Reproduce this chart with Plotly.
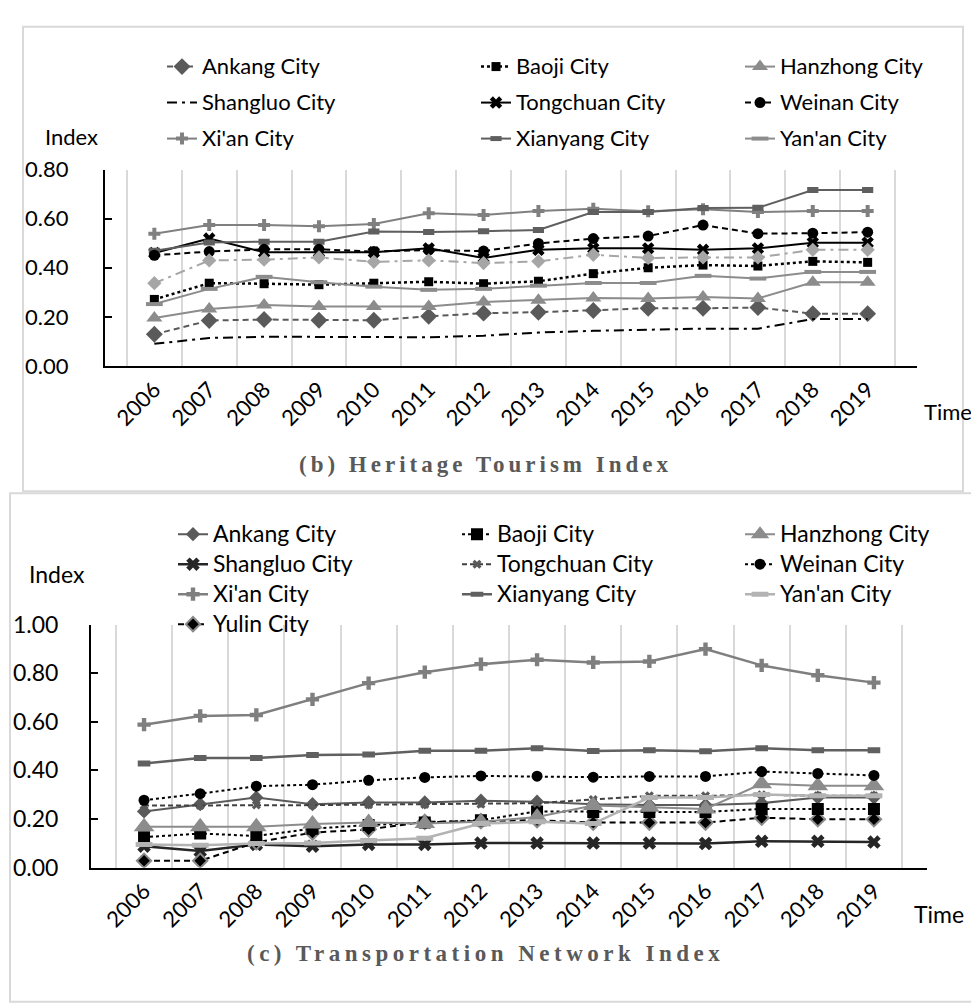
import plotly.graph_objects as go

W, H = 971, 1005
years = [str(y) for y in range(2006, 2020)]

# (b) Heritage Tourism Index
ht_ankang    = [0.129, 0.185, 0.189, 0.186, 0.186, 0.202, 0.215, 0.219, 0.226, 0.235, 0.235, 0.238, 0.213, 0.213]
ht_baoji     = [0.271, 0.337, 0.335, 0.331, 0.337, 0.343, 0.335, 0.345, 0.376, 0.400, 0.411, 0.407, 0.426, 0.422]
ht_hanzhong  = [0.195, 0.232, 0.248, 0.242, 0.242, 0.242, 0.261, 0.268, 0.277, 0.275, 0.281, 0.275, 0.341, 0.341]
ht_shangluo  = [0.090, 0.114, 0.119, 0.118, 0.117, 0.117, 0.123, 0.136, 0.143, 0.149, 0.152, 0.152, 0.191, 0.191]
ht_tongchuan = [0.460, 0.519, 0.463, 0.463, 0.463, 0.479, 0.440, 0.473, 0.479, 0.479, 0.473, 0.479, 0.502, 0.502]
ht_weinan    = [0.451, 0.466, 0.475, 0.475, 0.466, 0.472, 0.468, 0.499, 0.519, 0.529, 0.574, 0.539, 0.541, 0.545]
ht_xian      = [0.539, 0.574, 0.574, 0.569, 0.578, 0.622, 0.615, 0.631, 0.640, 0.630, 0.638, 0.627, 0.631, 0.631]
ht_xianyang  = [0.469, 0.503, 0.506, 0.506, 0.548, 0.546, 0.549, 0.554, 0.627, 0.627, 0.643, 0.644, 0.717, 0.717]
ht_yanan     = [0.252, 0.314, 0.363, 0.341, 0.323, 0.310, 0.314, 0.327, 0.338, 0.338, 0.367, 0.356, 0.383, 0.383]
ht_yulin     = [0.337, 0.430, 0.433, 0.442, 0.424, 0.430, 0.419, 0.426, 0.453, 0.440, 0.442, 0.442, 0.473, 0.473]

# (c) Transportation Network Index
tn_ankang    = [0.231, 0.261, 0.288, 0.261, 0.268, 0.268, 0.275, 0.271, 0.261, 0.257, 0.257, 0.265, 0.288, 0.288]
tn_baoji     = [0.125, 0.140, 0.130, 0.160, 0.175, 0.185, 0.195, 0.231, 0.229, 0.229, 0.229, 0.241, 0.241, 0.241]
tn_hanzhong  = [0.168, 0.168, 0.168, 0.179, 0.185, 0.181, 0.188, 0.208, 0.255, 0.248, 0.241, 0.345, 0.337, 0.337]
tn_shangluo  = [0.088, 0.068, 0.095, 0.088, 0.095, 0.095, 0.101, 0.101, 0.101, 0.101, 0.099, 0.108, 0.108, 0.105]
tn_tongchuan = [0.255, 0.255, 0.257, 0.257, 0.259, 0.260, 0.261, 0.265, 0.280, 0.295, 0.295, 0.300, 0.295, 0.295]
tn_weinan    = [0.277, 0.304, 0.335, 0.341, 0.359, 0.371, 0.377, 0.376, 0.372, 0.375, 0.375, 0.395, 0.387, 0.379]
tn_xian      = [0.588, 0.624, 0.628, 0.692, 0.759, 0.804, 0.837, 0.855, 0.844, 0.848, 0.899, 0.832, 0.791, 0.761]
tn_xianyang  = [0.428, 0.451, 0.451, 0.463, 0.465, 0.481, 0.481, 0.491, 0.480, 0.483, 0.479, 0.491, 0.483, 0.483]
tn_yanan     = [0.095, 0.092, 0.099, 0.101, 0.111, 0.121, 0.181, 0.188, 0.181, 0.288, 0.288, 0.301, 0.295, 0.295]
tn_yulin     = [0.028, 0.028, 0.104, 0.144, 0.157, 0.188, 0.191, 0.195, 0.185, 0.185, 0.185, 0.205, 0.199, 0.199]

FONT = "Lato"

def px(x):
    return x / W

def py(y):
    return 1 - y / H

fig = go.Figure()

def add(name, ys, xaxis, yaxis, legend, color, dash, width, symbol, msize,
        mcolor=None, mline=None, mlw=0, show=True, tsize=22):
    marker = dict(symbol=symbol, size=msize, color=mcolor or color)
    if symbol in ("line-ew",):
        marker = dict(symbol=symbol, size=msize, line=dict(color=mcolor or color, width=mlw))
    elif mline:
        marker["line"] = dict(color=mline, width=mlw)
    fig.add_trace(go.Scatter(
        x=years, y=ys, name=f"<span style='font-size:{tsize}px'>{name}</span>",
        mode="lines+markers" if symbol else "lines",
        line=dict(color=color, dash=dash, width=width),
        marker=marker, xaxis=xaxis, yaxis=yaxis, legend=legend,
        legendgroup=name + legend, showlegend=show, hoverinfo="skip"))

# top chart traces
T = ("x", "y")
add("Ankang City", ht_ankang, *T, "legend", "#5a5a5a", "6px,4px", 2, "diamond", 13)
add("Shangluo City", ht_shangluo, *T, "legend", "#000000", "10px,5px,3px,5px", 2, None, 0)
add("Xi'an City", ht_xian, *T, "legend", "#808080", "solid", 2, "cross", 10)
add("Baoji City", ht_baoji, *T, "legend2", "#000000", "dot", 2.5, "square", 9)
add("Tongchuan City", ht_tongchuan, *T, "legend2", "#000000", "solid", 2, "x", 11)
add("Xianyang City", ht_xianyang, *T, "legend2", "#5f5f5f", "solid", 2, "line-ew", 8, mlw=6)
add("Hanzhong City", ht_hanzhong, *T, "legend3", "#8c8c8c", "solid", 2, "triangle-up", 14)
add("Weinan City", ht_weinan, *T, "legend3", "#000000", "6px,4px", 2, "circle", 11)
add("Yan'an City", ht_yanan, *T, "legend3", "#8c8c8c", "solid", 2, "line-ew", 12, mlw=4)
add("Yulin City", ht_yulin, *T, "legend3", "#a6a6a6", "10px,5px,3px,5px", 2, "diamond", 11, show=False)

# bottom chart traces
B = ("x2", "y2")
add("Ankang City", tn_ankang, *B, "legend4", "#5a5a5a", "solid", 2, "diamond", 11, tsize=23)
add("Shangluo City", tn_shangluo, *B, "legend4", "#262626", "solid", 2.5, "x", 12, tsize=23)
add("Xi'an City", tn_xian, *B, "legend4", "#7f7f7f", "solid", 2.5, "cross", 11, tsize=23)
add("Yulin City", tn_yulin, *B, "legend4", "#000000", "6px,4px", 2, "diamond", 11, mcolor="#000000", mline="#8a8a8a", mlw=2, tsize=23)
add("Baoji City", tn_baoji, *B, "legend5", "#000000", "dot", 2, "square", 12, tsize=23)
add("Tongchuan City", tn_tongchuan, *B, "legend5", "#404040", "5px,3px", 2, "x", 8, mcolor="#595959", tsize=23)
add("Xianyang City", tn_xianyang, *B, "legend5", "#606060", "solid", 2.5, "line-ew", 9, mlw=6, tsize=23)
add("Hanzhong City", tn_hanzhong, *B, "legend6", "#8c8c8c", "solid", 2, "triangle-up", 18, tsize=23)
add("Weinan City", tn_weinan, *B, "legend6", "#000000", "dot", 2, "circle", 11, tsize=23)
add("Yan'an City", tn_yanan, *B, "legend6", "#b3b3b3", "solid", 2.5, "line-ew", 12, mlw=5, tsize=23)

xcommon = dict(type="category", tickson="boundaries", showgrid=True, gridcolor="#d9d9d9",
               gridwidth=2, showline=True, linecolor="#000000", linewidth=2, ticks="",
               tickangle=-45, zeroline=False, fixedrange=True)
ycommon = dict(showgrid=False, showline=True, linecolor="#000000", linewidth=2,
               ticks="inside", ticklen=7, tickcolor="#000000", tickwidth=2,
               tickformat=".2f", zeroline=False, fixedrange=True)

def leg(x, y, gap):
    return dict(x=px(x), y=py(y), xanchor="left", yanchor="top", orientation="v",
                font=dict(family=FONT, size=20, color="#000000"), tracegroupgap=gap,
                bgcolor="rgba(0,0,0,0)", itemclick=False, itemdoubleclick=False)

def note(text, x, y, size, family=FONT, color="#000000", xanchor="left"):
    return dict(text=text, x=x, y=py(y), xref="paper", yref="paper", xanchor=xanchor,
                yanchor="middle", showarrow=False, font=dict(family=family, size=size, color=color))

fig.update_layout(
    width=W, height=H, margin=dict(l=0, r=0, t=0, b=0),
    paper_bgcolor="#ffffff", plot_bgcolor="#ffffff",
    font=dict(family=FONT, color="#000000"),
    xaxis=dict(xcommon, domain=[px(105), px(917)], anchor="y",
               tickfont=dict(family=FONT, size=22, color="#000000")),
    yaxis=dict(ycommon, domain=[py(361), py(159)], range=[0, 0.8], tickvals=[0, 0.2, 0.4, 0.6, 0.8],
               anchor="x", tickfont=dict(family=FONT, size=22, color="#000000"), ticklabelstandoff=30),
    xaxis2=dict(xcommon, domain=[px(91), px(927)], anchor="y2",
                tickfont=dict(family=FONT, size=22, color="#000000")),
    yaxis2=dict(ycommon, domain=[py(877), py(627)], range=[0, 1.0], tickvals=[0, 0.2, 0.4, 0.6, 0.8, 1.0],
                anchor="x2", tickfont=dict(family=FONT, size=23, color="#000000"), ticklabelstandoff=26),
    legend=leg(162, 33, 7),
    legend2=leg(476, 33, 7),
    legend3=leg(740, 33, 7),
    legend4=leg(173, 514, 1),
    legend5=leg(457, 514, 1),
    legend6=leg(740, 514, 1),
    shapes=[
        dict(type="rect", xref="paper", yref="paper", x0=px(23), x1=px(963), y0=py(490), y1=py(12),
             line=dict(color="#d9d9d9", width=2)),
        dict(type="rect", xref="paper", yref="paper", x0=px(10), x1=px(985), y0=py(1015), y1=py(492),
             line=dict(color="#d9d9d9", width=2)),
    ],
    annotations=[
        note("Index", px(43), 125, 22),
        note("Time", px(922), 408, 22),
        note("<b><span style='letter-spacing:4px'>(b) Heritage Tourism Index</span></b>", 0.5, 462, 23,
             family="Liberation Serif", color="#595959", xanchor="center"),
        note("Index", px(27), 575, 23),
        note("Time", px(912), 925, 23),
        note("<b><span style='letter-spacing:4.5px'>(c) Transportation Network Index</span></b>", 0.5, 965, 23,
             family="Liberation Serif", color="#595959", xanchor="center"),
    ],
)

fig.write_html("out.html", config={"displayModeBar": False},
               post_script="document.body.style.margin='0';document.body.style.overflow='hidden';")
